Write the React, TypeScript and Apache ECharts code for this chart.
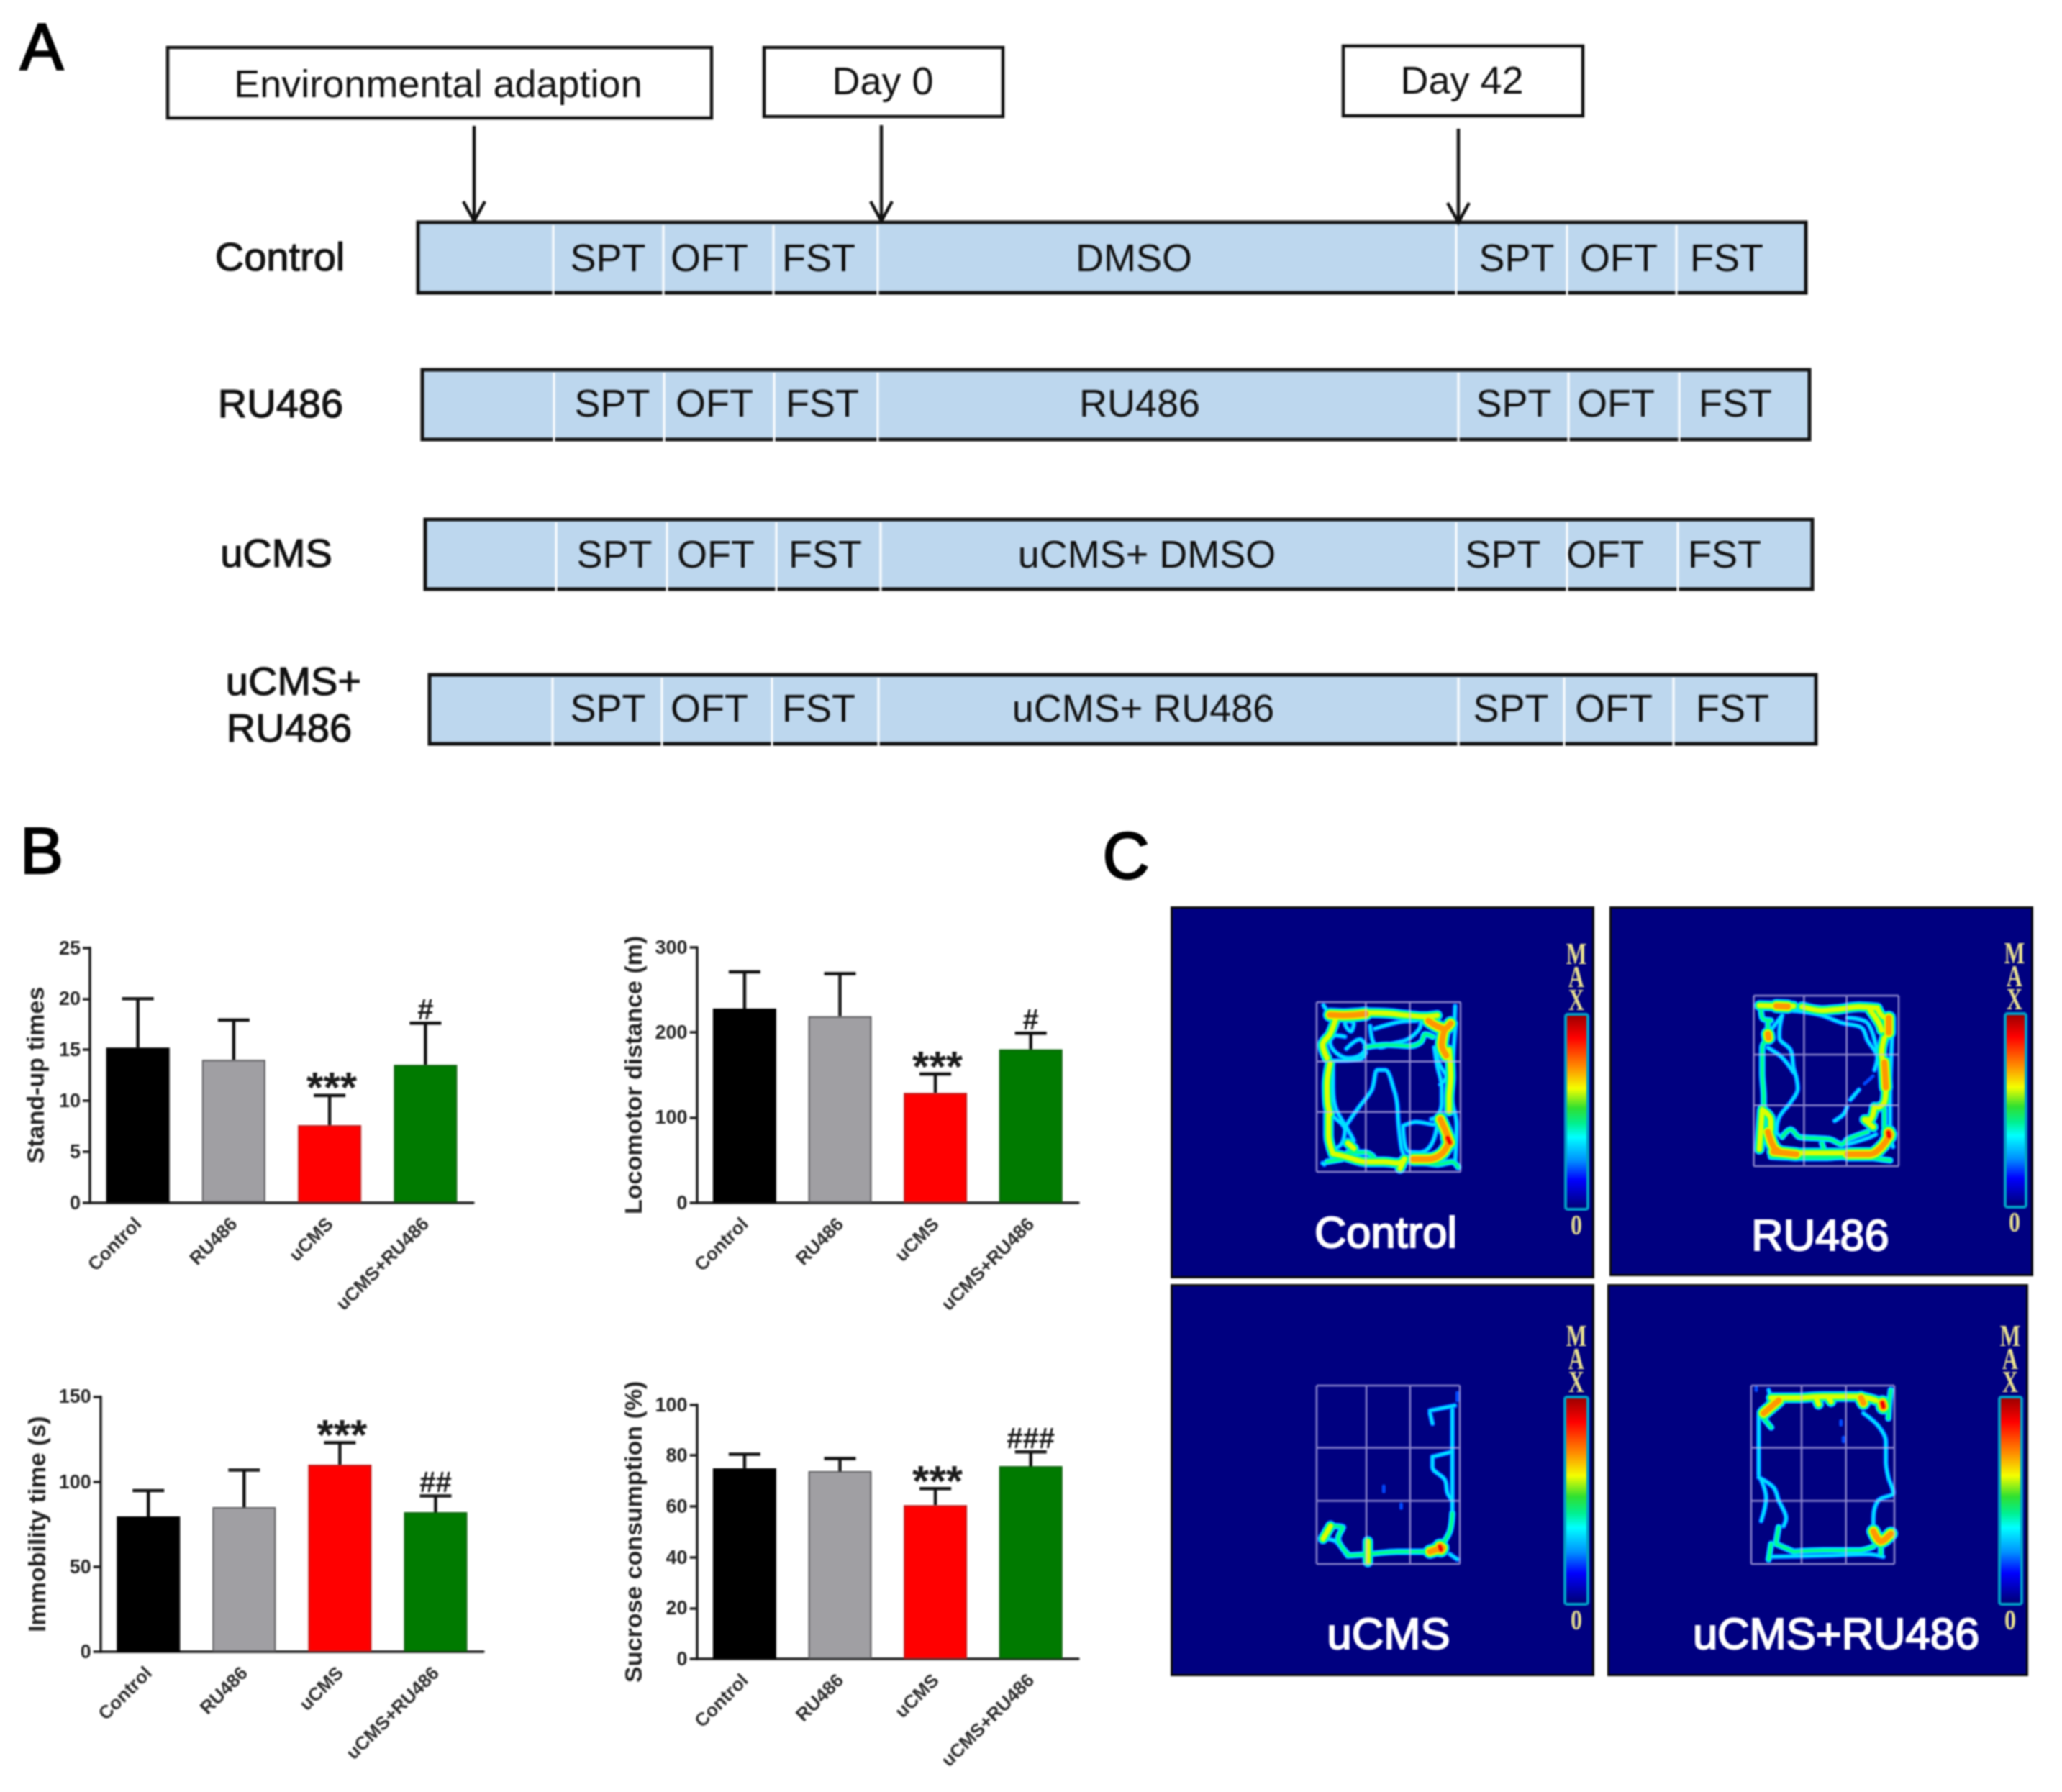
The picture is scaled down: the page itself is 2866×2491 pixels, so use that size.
import React, { useEffect, useRef } from "react";
import * as echarts from "echarts";

const FONT = "Liberation Sans";
const W = 2866;
const H = 2491;

// ---------- Panel B data ----------
const groups = ["Control", "RU486", "uCMS", "uCMS+RU486"];
const barColors = ["#000000", "#a09fa3", "#ff0000", "#007a00"];
const barBorders = ["#000000", "#5c5c5f", "#c02020", "#0a640a"];

const standUpMean = [15.2, 14, 7.6, 13.5];
const standUpTop = [20, 17.9, 10.5, 17.6];
const standUpMarks = ["", "", "***", "#"];

const locomotorMean = [228, 219, 129, 180];
const locomotorTop = [271, 269, 151, 199];
const locomotorMarks = ["", "", "***", "#"];

const immobilityMean = [79.5, 85, 110, 82];
const immobilityTop = [94.7, 106.8, 122.9, 91.6];
const immobilityMarks = ["", "", "***", "##"];

const sucroseMean = [75, 73.8, 60.5, 75.8];
const sucroseTop = [80.5, 78.8, 67, 81.4];
const sucroseMarks = ["", "", "***", "###"];

// ---------- Panel A data ----------
const timelineNames = ["Environmental adaption", "Day 0", "Day 42"];
const phases = [
  ["SPT", "OFT", "FST", "DMSO", "SPT", "OFT", "FST"],
  ["SPT", "OFT", "FST", "RU486", "SPT", "OFT", "FST"],
  ["SPT", "OFT", "FST", "uCMS+ DMSO", "SPT", "OFT", "FST"],
  ["SPT", "OFT", "FST", "uCMS+ RU486", "SPT", "OFT", "FST"],
];

// ---------- Panel C data: paths as [heat, x, y, x, y, ...] ----------
const controlTraces = [
  [4, 600, 488, 650, 490, 720, 484],
  [3, 720, 480, 790, 482, 860, 490, 920, 495, 960, 490],
  [1, 578, 452, 600, 490],
  [1, 1020, 455, 1018, 515],
  [4, 930, 510, 985, 540, 1005, 520],
  [4, 985, 540, 975, 600, 990, 640],
  [3, 1000, 620, 1005, 720, 1000, 800, 1000, 850],
  [4, 970, 880, 990, 930, 1000, 965],
  [5, 995, 950, 1002, 968],
  [4, 1000, 965, 975, 1010, 930, 1030, 880, 1030],
  [3, 620, 500, 600, 560, 575, 600, 590, 650],
  [3, 600, 670, 590, 750, 592, 820, 600, 860],
  [3, 595, 860, 595, 940, 610, 1010],
  [3, 610, 1010, 650, 1020, 720, 1040, 780, 1040, 830, 1045, 850, 1030],
  [3, 850, 1030, 835, 1065],
  [2, 590, 1040, 640, 1030],
  [2, 900, 1040, 960, 1050, 1010, 1040, 1030, 1060],
  [1, 1022, 520, 1015, 620, 1010, 800, 1025, 900, 1020, 1040],
  [1, 650, 570, 620, 565, 600, 590, 620, 630, 660, 650, 700, 640, 720, 610, 700, 580, 680, 590, 655, 615],
  [1, 660, 510, 680, 520, 670, 550, 650, 520, 660, 510],
  [1, 735, 530, 745, 590, 770, 610, 810, 595, 860, 580, 900, 540, 905, 510],
  [1, 750, 540, 830, 515, 890, 510],
  [2, 720, 610, 790, 600, 870, 605, 905, 590, 920, 560, 945, 570],
  [1, 600, 660, 700, 655, 720, 630],
  [1, 950, 610, 970, 680, 990, 720, 970, 750],
  [1, 950, 610, 960, 680, 975, 760, 975, 820, 960, 870, 940, 880],
  [1, 650, 910, 700, 830, 740, 770, 760, 695, 785, 695, 815, 770, 825, 820, 830, 900, 840, 990, 850, 1020],
  [1, 610, 680, 610, 760, 620, 840, 660, 920, 680, 960],
  [1, 610, 870, 650, 920, 640, 970, 620, 990],
  [1, 845, 905, 890, 890, 950, 900, 965, 880],
  [1, 845, 905, 860, 1000, 900, 1005, 930, 990, 950, 950, 960, 900],
  [2, 660, 1005, 720, 1005, 745, 1020],
  [3, 660, 970, 680, 990],
  [1, 575, 1045, 581, 1050],
];

const ru486Traces = [
  [3, 570, 430, 640, 432, 690, 432],
  [4, 630, 432, 670, 434],
  [3, 720, 435, 790, 450, 850, 445, 920, 435, 985, 440],
  [3, 985, 440, 1000, 470, 1030, 490],
  [4, 1025, 480, 1025, 540],
  [3, 960, 450, 990, 500, 1000, 530],
  [2, 575, 425, 580, 480, 610, 490],
  [2, 600, 490, 600, 540],
  [4, 600, 545, 602, 560],
  [2, 600, 560, 580, 600, 580, 700, 585, 800, 585, 840],
  [3, 580, 850, 575, 930, 570, 1010],
  [3, 580, 850, 610, 890, 610, 930],
  [4, 600, 940, 620, 1000, 640, 1020],
  [4, 620, 1020, 700, 1030],
  [3, 700, 1025, 800, 1025, 880, 1025],
  [4, 880, 1030, 960, 1030, 1000, 1000, 1030, 950],
  [5, 1024, 942, 1026, 958],
  [2, 610, 1040, 730, 1045, 800, 1045, 900, 1040, 1030, 1055],
  [3, 1010, 560, 1000, 620, 1010, 680],
  [4, 1010, 660, 1015, 760],
  [3, 1015, 760, 1010, 820, 990, 840],
  [1, 1040, 470, 1035, 600, 1030, 800, 1030, 940, 1040, 1000],
  [3, 975, 840, 960, 890, 940, 890, 970, 920],
  [2, 1010, 850, 1010, 920, 1020, 940],
  [1, 650, 470, 640, 540, 640, 560, 680, 610, 690, 680, 700, 720],
  [1, 700, 720, 705, 765, 680, 820, 640, 880, 630, 940, 650, 960],
  [1, 610, 530, 650, 470],
  [1, 600, 600, 650, 640, 690, 700],
  [1, 680, 450, 720, 455, 790, 470, 860, 500, 930, 520, 950, 570, 985, 640, 975, 690],
  [1, 880, 480, 950, 500, 985, 620],
  [0, 970, 715, 940, 745],
  [1, 920, 770, 890, 810],
  [1, 878, 840, 865, 870, 835, 895],
  [2, 650, 960, 680, 930, 710, 960, 760, 965, 820, 970, 860, 990, 880, 970, 950, 940],
  [1, 880, 990, 950, 965, 980, 950],
  [2, 790, 985, 800, 1020],
];

const ucmsTraces = [
  [0, 355, 380, 355, 410],
  [1, 300, 450, 350, 430],
  [1, 300, 460, 305, 500],
  [1, 345, 445, 345, 600, 345, 700, 345, 850],
  [2, 345, 850, 340, 920, 325, 970],
  [1, 305, 630, 345, 610],
  [1, 305, 630, 305, 670, 330, 720, 335, 770, 345, 800],
  [0, 207, 745, 207, 765],
  [0, 242, 815, 242, 830],
  [3, 100, 900, 85, 950],
  [2, 100, 900, 125, 905, 115, 950, 135, 1010],
  [1, 85, 950, 110, 960, 130, 1010],
  [2, 135, 1015, 175, 1010, 235, 1000, 295, 1000],
  [3, 175, 960, 175, 1040],
  [4, 300, 1000, 325, 985],
  [5, 320, 980, 322, 992],
  [1, 340, 1010, 355, 1030],
];

const ucmsRu486Traces = [
  [0, 955, 360, 955, 370],
  [1, 980, 370, 985, 400],
  [3, 985, 400, 1030, 400, 1090, 395, 1160, 395, 1195, 410],
  [4, 1000, 410, 970, 460],
  [5, 1208, 420, 1210, 435],
  [2, 1225, 370, 1222, 420, 1220, 480],
  [3, 1075, 400, 1080, 425],
  [3, 1100, 400, 1105, 415],
  [4, 1165, 400, 1170, 420],
  [2, 970, 480, 985, 515],
  [1, 960, 470, 960, 600, 960, 700],
  [1, 960, 710, 990, 750, 1000, 800, 1015, 870, 1010, 900],
  [1, 965, 720, 975, 790, 965, 880],
  [2, 1000, 905, 995, 960],
  [2, 985, 970, 980, 1030],
  [2, 995, 970, 1030, 1000],
  [2, 1030, 1000, 1090, 995, 1160, 995, 1190, 980],
  [1, 985, 1020, 1100, 1015, 1180, 1010, 1210, 1020],
  [1, 1170, 460, 1200, 510, 1215, 570, 1215, 650, 1220, 710, 1230, 770, 1200, 800, 1190, 870, 1190, 920],
  [4, 1190, 920, 1205, 960, 1225, 930],
  [2, 1205, 970, 1205, 1010],
  [0, 1125, 490, 1125, 505],
  [0, 1130, 555, 1130, 570],
];

// Colour bar stops of the heat map scale (top = MAX)
const scaleStops = [
  [0, "#990000"], [0.12, "#ff0000"], [0.27, "#ff8c00"], [0.38, "#f4ff00"], [0.48, "#30e030"],
  [0.56, "#00f090"], [0.63, "#00ffff"], [0.75, "#0090ff"], [0.85, "#0000ff"], [1, "#000070"],
];

// ---------- Layout ----------
const headerBoxes = [
  { x0: 233, x1: 989, y0: 66, y1: 164, tx: 609, ty: 116 },
  { x0: 1062, x1: 1394, y0: 66, y1: 162, tx: 1227, ty: 112 },
  { x0: 1867, x1: 2200, y0: 64, y1: 161, tx: 2032, ty: 111 },
];
const arrows = [
  { x: 659, y0: 175, y1: 307 },
  { x: 1225, y0: 174, y1: 307 },
  { x: 2027, y0: 179, y1: 309 },
];
const rowLayout = [
  { x0: 581, x1: 2510, y0: 309, y1: 407, ty: 358, seps: [769, 922, 1075, 1220, 2024, 2178, 2330], tx: [845, 986, 1138, 1576, 2108, 2250, 2400] },
  { x0: 587, x1: 2515, y0: 514, y1: 611, ty: 560, seps: [770, 923, 1076, 1220, 2027, 2180, 2334], tx: [851, 993, 1143, 1584, 2104, 2246, 2412] },
  { x0: 591, x1: 2519, y0: 722, y1: 819, ty: 770, seps: [773, 927, 1079, 1224, 2024, 2178, 2332], tx: [854, 995, 1147, 1594, 2089, 2231, 2397] },
  { x0: 597, x1: 2524, y0: 938, y1: 1034, ty: 984, seps: [768, 920, 1073, 1221, 2027, 2174, 2326], tx: [845, 986, 1138, 1589, 2100, 2243, 2408] },
];
const rowLabels = [
  { t: "Control", x: 389, y: 356 },
  { t: "RU486", x: 390, y: 560 },
  { t: "uCMS", x: 384, y: 768 },
  { t: "uCMS+", x: 408, y: 946 },
  { t: "RU486", x: 402, y: 1011 },
];
const panelLetters = [
  { t: "A", x: 58, y: 65 },
  { t: "B", x: 58, y: 1183 },
  { t: "C", x: 1565, y: 1190 },
];

const barPanels = [
  { name: "Stand-up times", mean: standUpMean, top: standUpTop, marks: standUpMarks, max: 25, step: 5, left: 125, right: 658, yTop: 1317.5, yBot: 1671.5, gap: 59 },
  { name: "Locomotor distance (m)", mean: locomotorMean, top: locomotorTop, marks: locomotorMarks, max: 300, step: 100, left: 968.6, right: 1499, yTop: 1316.8, yBot: 1671.8, gap: 72 },
  { name: "Immobility time (s)", mean: immobilityMean, top: immobilityTop, marks: immobilityMarks, max: 150, step: 50, left: 139.7, right: 672, yTop: 1941.4, yBot: 2295.9, gap: 72 },
  { name: "Sucrose consumption (%)", mean: sucroseMean, top: sucroseTop, marks: sucroseMarks, max: 100, step: 20, left: 968.6, right: 1499, yTop: 1952.5, yBot: 2306, gap: 72 },
];

const tiles = [
  {
    label: "Control", traces: controlTraces, box: [1628.5, 1261.5, 2214.5, 1775.5],
    arena: [1830, 1393, 2030, 1629], ex: [555, 1038, 440, 1078], vs: [720, 868], hs: [663, 853],
    bar: [2176, 1410, 2207, 1681], maxX: 2191, maxY: 1358, zeroY: 1703, text: [1926, 1712],
  },
  {
    label: "RU486", traces: ru486Traces, box: [2238.5, 1261.5, 2824.5, 1772.5],
    arena: [2437.5, 1384, 2639, 1621], ex: [550, 1060, 390, 1078], vs: [727, 877], hs: [628, 833],
    bar: [2787, 1409, 2816, 1678], maxX: 2800, maxY: 1357, zeroY: 1699, text: [2530, 1716],
  },
  {
    label: "uCMS", traces: ucmsTraces, box: [1628.5, 1786.5, 2214.5, 2328.5],
    arena: [1830, 1926, 2029, 2174], ex: [72, 360, 352, 1048], vs: [172, 260], hs: [595, 802],
    bar: [2175, 1942, 2207, 2230], maxX: 2191, maxY: 1889, zeroY: 2252, text: [1930, 2270],
  },
  {
    label: "uCMS+RU486", traces: ucmsRu486Traces, box: [2235.5, 1786.5, 2817.5, 2328.5],
    arena: [2434, 1926, 2633, 2174], ex: [945, 1232, 352, 1048], vs: [1046, 1135], hs: [595, 802],
    bar: [2779, 1942, 2810, 2230], maxX: 2794, maxY: 1889, zeroY: 2252, text: [2552, 2270],
  },
];

const heatColors = ["#0048ff", "#00e0ff", "#00ff88", "#d8ff00", "#ff9800", "#f00000"];
const heatWidths = [[5], [7.5, 4.5], [10, 8, 4], [16, 14, 11, 7], [21, 19, 16, 13, 8], [23, 21, 18, 14, 10, 5]];

// ---------- Helpers ----------
const txt = (t: string, x: number, y: number, size: number, extra: any = {}, styleExtra: any = {}) => ({
  type: "text", x, y, ...extra,
  style: { text: t, fontFamily: FONT, fontSize: size, align: "center", verticalAlign: "middle", fill: "#111", ...styleExtra },
});

function buildGraphics() {
  const out: any[] = [];
  headerBoxes.forEach((b, i) => {
    out.push({ type: "rect", shape: { x: b.x0, y: b.y0, width: b.x1 - b.x0, height: b.y1 - b.y0 }, style: { fill: "#fff", stroke: "#111", lineWidth: 4.5 } });
    out.push(txt(timelineNames[i], b.tx, b.ty, 54));
  });
  arrows.forEach((a) => {
    out.push({ type: "line", shape: { x1: a.x, y1: a.y0, x2: a.x, y2: a.y1 }, style: { stroke: "#111", lineWidth: 4.5 }, z: 5 });
    out.push({ type: "polyline", shape: { points: [[a.x - 15, a.y1 - 27], [a.x, a.y1], [a.x + 15, a.y1 - 27]] }, style: { stroke: "#111", lineWidth: 4.5, fill: "none" }, z: 5 });
  });
  rowLayout.forEach((r, i) => {
    out.push({ type: "rect", shape: { x: r.x0, y: r.y0, width: r.x1 - r.x0, height: r.y1 - r.y0 }, style: { fill: "#bdd7ee", stroke: "#111", lineWidth: 5 } });
    r.seps.forEach((s) => {
      out.push({ type: "line", shape: { x1: s, y1: r.y0 + 4, x2: s, y2: r.y1 + 3 }, style: { stroke: "#fff", lineWidth: 3 } });
    });
    phases[i].forEach((p, j) => out.push(txt(p, r.tx[j], r.ty, 54)));
  });
  rowLabels.forEach((l) => out.push(txt(l.t, l.x, l.y, 56, {}, { stroke: "#111", lineWidth: 1.2 })));
  panelLetters.forEach((l) => out.push(txt(l.t, l.x, l.y, 90, {}, { fill: "#000", stroke: "#000", lineWidth: 2.5 })));

  tiles.forEach((t) => {
    const [x0, y0, x1, y1] = t.box;
    out.push({ type: "rect", z: 0, shape: { x: x0, y: y0, width: x1 - x0, height: y1 - y0 }, style: { fill: "#000080", stroke: "#0a0a0a", lineWidth: 3 } });
    const [bx0, by0, bx1, by1] = t.bar;
    out.push({
      type: "rect", z: 1, shape: { x: bx0, y: by0, width: bx1 - bx0, height: by1 - by0, r: 3 },
      style: {
        fill: {
          type: "linear", x: 0, y: 0, x2: 0, y2: 1, global: false,
          colorStops: scaleStops.map(([offset, color]) => ({ offset, color })),
        },
        stroke: "#00a0c8", lineWidth: 4,
      },
    });
    out.push(txt("M\nA\nX", t.maxX, t.maxY, 42, { scaleX: 0.72, z: 3 }, { fill: "#e8e090", fontFamily: "Liberation Serif", fontWeight: "bold", lineHeight: 32 }));
    out.push(txt("0", t.maxX, t.zeroY, 40, { scaleX: 0.8, z: 3 }, { fill: "#e8e090", fontFamily: "Liberation Serif", fontWeight: "bold" }));
    out.push(txt(t.label, t.text[0], t.text[1], 61.5, { z: 3 }, { fill: "#fff", stroke: "#fff", lineWidth: 2 }));
  });
  return out;
}

const errorRender = (_p: any, api: any) => {
  const i = api.value(0);
  const low = api.coord([i, api.value(2)]);
  const high = api.coord([i, api.value(1)]);
  const st = { stroke: "#111", lineWidth: 4.5 };
  return {
    type: "group",
    children: [
      { type: "line", shape: { x1: high[0], y1: low[1], x2: high[0], y2: high[1] }, style: st },
      { type: "line", shape: { x1: high[0] - 22, y1: high[1], x2: high[0] + 22, y2: high[1] }, style: st },
    ],
  };
};

function buildOption() {
  const grid: any[] = [];
  const xAxis: any[] = [];
  const yAxis: any[] = [];
  const series: any[] = [];
  const axisLineStyle = { color: "#1c1c1c", width: 3.5 };

  barPanels.forEach((p, g) => {
    grid.push({ left: p.left, top: p.yTop, width: p.right - p.left, height: p.yBot - p.yTop, containLabel: false });
    xAxis.push({
      type: "category", gridIndex: g, data: groups,
      axisLine: { lineStyle: axisLineStyle },
      axisTick: { alignWithLabel: true, length: 12, lineStyle: axisLineStyle },
      axisLabel: { rotate: 45, margin: 25, interval: 0, fontFamily: FONT, fontSize: 26, fontWeight: "bold", color: "#2a2a2a" },
    });
    yAxis.push({
      type: "value", gridIndex: g, min: 0, max: p.max, interval: p.step,
      name: p.name, nameLocation: "middle", nameRotate: 90, nameGap: p.gap,
      nameTextStyle: { fontFamily: FONT, fontSize: 34, fontWeight: "bold", color: "#222" },
      splitLine: { show: false },
      axisLine: { show: true, lineStyle: axisLineStyle },
      axisTick: { show: true, length: 10, lineStyle: axisLineStyle },
      axisLabel: { margin: 13, fontFamily: FONT, fontSize: 27, fontWeight: "bold", color: "#222" },
    });
    series.push({
      type: "bar", xAxisIndex: g, yAxisIndex: g, barWidth: 88,
      data: p.mean.map((v, i) => ({ value: v, itemStyle: { color: barColors[i], borderColor: barBorders[i], borderWidth: 2 } })),
    });
    series.push({
      type: "custom", xAxisIndex: g, yAxisIndex: g, z: 1, renderItem: errorRender,
      encode: { x: 0, y: 1 }, data: p.top.map((t, i) => [i, t, p.mean[i]]),
    });
    series.push({
      type: "custom", xAxisIndex: g, yAxisIndex: g, z: 4,
      encode: { x: 0, y: 1 }, data: p.top.map((t, i) => [i, t, i]),
      renderItem: (_q: any, api: any) => {
        const i = api.value(2);
        const m = p.marks[i];
        if (!m) return null;
        const c = api.coord([api.value(0), api.value(1)]);
        const star = m[0] === "*";
        return {
          type: "text", x: c[0] + (star ? 3 : 0), y: c[1] + (star ? 19 : 1),
          style: { text: m, fontFamily: FONT, fontSize: star ? 60 : 40, fontWeight: "bold", fill: "#1a1a1a", align: "center", verticalAlign: "bottom" },
        };
      },
    });
  });

  tiles.forEach((t, k) => {
    const g = barPanels.length + k;
    const [ax0, ay0, ax1, ay1] = t.arena;
    const [ex0, ex1, ey0, ey1] = t.ex;
    grid.push({ left: ax0, top: ay0, width: ax1 - ax0, height: ay1 - ay0 });
    xAxis.push({ type: "value", gridIndex: g, min: ex0, max: ex1, show: false });
    yAxis.push({ type: "value", gridIndex: g, min: ey0, max: ey1, inverse: true, show: false });

    for (let layer = 0; layer < heatColors.length; layer++) {
      for (let heat = 5; heat >= layer; heat--) {
        const items: any[] = [];
        t.traces.forEach((tr: number[]) => {
          if (tr[0] !== heat) return;
          for (let n = 1; n + 1 < tr.length; n += 2) items.push([tr[n], tr[n + 1]]);
          items.push(["-", "-"]);
        });
        if (!items.length) continue;
        series.push({
          type: "line", xAxisIndex: g, yAxisIndex: g, z: 3, showSymbol: false, silent: true, connectNulls: false, clip: false,
          smooth: 0.35, data: items,
          lineStyle: { color: heatColors[layer], width: heatWidths[heat][layer], cap: "round", join: "round" },
        });
      }
    }
    const gridItems: any[] = [];
    [ex0, ...t.vs, ex1].forEach((v) => gridItems.push([v, ey0], [v, ey1], ["-", "-"]));
    [ey0, ...t.hs, ey1].forEach((h) => gridItems.push([ex0, h], [ex1, h], ["-", "-"]));
    series.push({
      type: "line", xAxisIndex: g, yAxisIndex: g, z: 4, showSymbol: false, silent: true, connectNulls: false, clip: false,
      data: gridItems,
      lineStyle: { color: "#c8c0f0", width: 2.5, opacity: 0.7 },
    });
  });

  return { animation: false, backgroundColor: "#ffffff", grid, xAxis, yAxis, series, graphic: { elements: buildGraphics() } };
}

export default function App() {
  const ref = useRef<HTMLDivElement>(null);
  useEffect(() => {
    const chart = echarts.init(ref.current!, undefined, { renderer: "svg", width: W, height: H });
    chart.setOption(buildOption() as any);
    return () => chart.dispose();
  }, []);
  return <div ref={ref} style={{ position: "absolute", left: 0, top: 0, width: W, height: H, filter: "blur(0.9px)" }} />;
}
